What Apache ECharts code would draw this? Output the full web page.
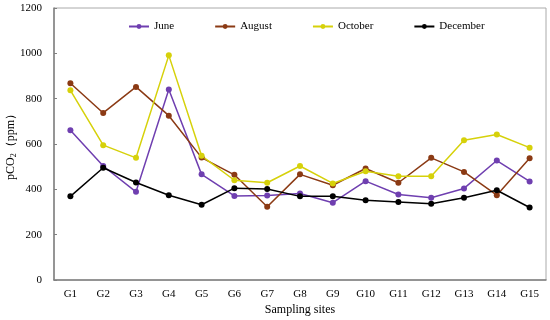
<!DOCTYPE html>
<html>
<head>
<meta charset="utf-8">
<script src="https://cdn.jsdelivr.net/npm/echarts@6/dist/echarts.min.js"></script>
<style>html,body{margin:0;padding:0;background:#fff}#c{width:550px;height:320px}</style>
</head>
<body>
<div id="c"></div>
<script>
const categories = ['G1','G2','G3','G4','G5','G6','G7','G8','G9','G10','G11','G12','G13','G14','G15'];
const june = [661,503,389,840,466,371,373,382,341,436,377,363,404,527,435];
const august = [868,737,852,725,540,464,323,466,418,492,429,539,477,374,537];
const october = [837,595,539,991,548,440,429,503,426,480,458,458,617,642,584];
const december = [369,495,430,374,332,405,401,369,370,352,344,336,363,396,320];
const yTicks = [0,200,400,600,800,1000,1200];

const font = '"Liberation Serif","DejaVu Serif",serif';
const chart = echarts.init(document.getElementById('c'));
function mk(name, data, color){
  return {name, type:'line', data, symbol:'circle', symbolSize:6,
    lineStyle:{color, width:1.5}, itemStyle:{color}};
}
chart.setOption({
  animation:false,
  textStyle:{fontFamily:font},
  grid:{left:54, right:4, top:8, bottom:40, containLabel:false, outerBoundsMode:'none',
    show:true, borderColor:'#aaaaaa', borderWidth:1},
  legend:{top:16, left:123, itemGap:40, itemWidth:20, itemHeight:6,
    textStyle:{fontFamily:font, fontSize:11, color:'#000'},
    data:['June','August','October','December']},
  xAxis:{type:'category', data:categories, boundaryGap:true,
    name:'Sampling sites', nameLocation:'middle', nameGap:24, nameMoveOverlap:false,
    nameTextStyle:{fontFamily:font, fontSize:12, color:'#000'},
    axisLine:{lineStyle:{color:'#808080', width:1.5}},
    axisTick:{inside:true, length:3, alignWithLabel:true, lineStyle:{color:'#808080'}},
    axisLabel:{fontFamily:font, fontSize:11, color:'#000', margin:9}},
  yAxis:{type:'value', min:0, max:1200, interval:200,
    name:'{a|pCO}{s|2}{a|（ppm）}', nameLocation:'middle', nameGap:36, nameRotate:90, nameMoveOverlap:false,
    nameTextStyle:{rich:{a:{fontFamily:font, fontSize:12, color:'#000'}, s:{fontFamily:font, fontSize:8, color:'#000', verticalAlign:'bottom', padding:[6,0,0,0]}}},
    axisLine:{show:true, lineStyle:{color:'#808080', width:1.5}},
    axisTick:{show:true, inside:true, length:3, lineStyle:{color:'#808080'}},
    splitLine:{show:false},
    axisLabel:{fontFamily:font, fontSize:11, color:'#000', margin:12,
      formatter: v => yTicks.includes(v) ? String(v) : ''}},
  series:[
    mk('June', june, '#6f3fb0'),
    mk('August', august, '#8b3a14'),
    mk('October', october, '#d6d10a'),
    mk('December', december, '#000000')
  ]
});
</script>
</body>
</html>
